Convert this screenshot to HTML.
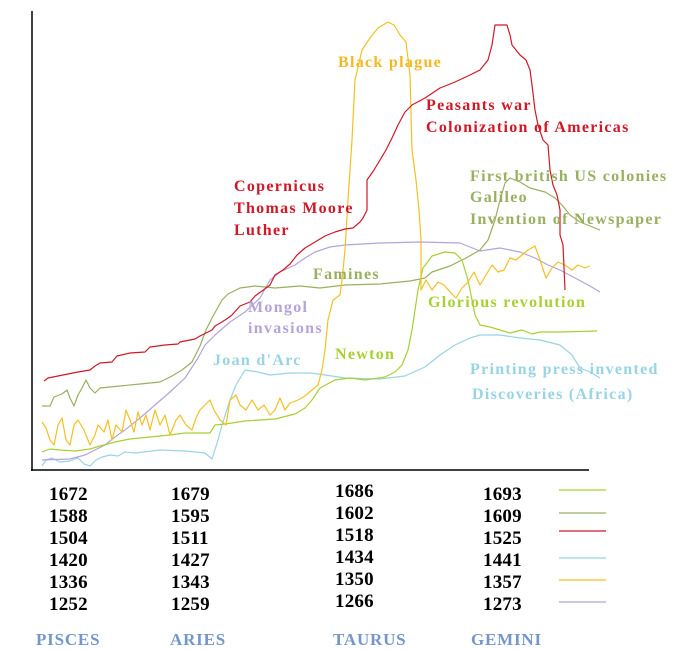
<!DOCTYPE html>
<html><head><style>
body{margin:0;background:#fff;}
svg{display:block;}
text{font-family:"Liberation Serif",serif;font-weight:bold;}
</style></head><body>
<svg width="687" height="651" viewBox="0 0 687 651" xmlns="http://www.w3.org/2000/svg">
<g fill="none" stroke-width="1.2" stroke-linejoin="round">
<line x1="32" y1="11" x2="32" y2="471" stroke="#000" stroke-width="1.5"/>
<line x1="31" y1="470" x2="589" y2="470" stroke="#000" stroke-width="1.5"/>
<polyline stroke="#98d4e4" points="42,466 46,460 52,458 60,462 70,461 78,458 84,464 90,466 96,460 102,457 110,455 118,456 125,452 135,453 160,450 185,451 205,453 212,459 218,440 222,425 230,400 236,385 245,370 258,372 270,375 290,373 310,373 325,375 345,378 380,379 405,376 425,367 440,355 455,345 470,338 480,335 500,335 520,338 540,340 560,345 572,355 580,368 590,372 600,378"/>
<polyline stroke="#b4a4d8" points="42,460 70,459 85,455 95,450 105,445 115,437 125,430 140,418 155,405 170,392 185,378 198,358 205,345 215,335 230,322 245,312 260,298 270,280 280,272 295,265 305,258 315,252 330,247 345,245 380,243 420,242 460,243 470,247 480,251 500,248 520,252 535,258 548,265 560,270 575,278 590,286 600,292"/>
<polyline stroke="#98b060" points="42,406 50,406 54,397 62,394 67,390 70,398 74,406 78,395 82,388 86,380 90,388 95,393 100,388 120,386 140,384 160,382 172,376 182,370 192,362 200,346 206,330 212,318 222,300 228,294 240,288 255,286 275,288 300,286 320,288 345,285 380,284 410,281 425,278 432,272 450,266 466,258 480,250 488,240 495,220 500,200 505,183 510,178 520,182 530,188 545,192 555,198 562,205 570,215 580,222 590,226 600,230"/>
<polyline stroke="#a8d030" points="42,452 50,449 60,450 75,451 90,449 100,446 115,442 130,439 150,437 170,435 185,433 210,433 215,425 225,424 245,421 260,420 275,419 295,414 305,408 312,400 320,388 335,380 350,378 365,380 385,377 395,372 402,365 408,350 412,330 415,310 418,290 423,268 432,256 445,252 455,253 462,260 468,280 472,300 475,315 480,325 490,327 500,330 510,333 522,330 532,334 540,332 560,332 597,331"/>
<polyline stroke="#f4c020" points="42,422 46,428 50,440 54,445 58,425 62,418 66,440 70,445 74,425 78,420 84,430 90,445 95,435 98,425 104,432 108,420 112,440 116,425 122,432 126,410 130,420 134,432 138,412 142,425 146,415 150,430 155,410 160,425 165,415 170,435 176,420 180,415 186,425 192,430 196,418 200,410 205,405 210,400 214,410 220,420 226,425 230,400 236,395 240,405 246,410 252,400 258,410 264,405 270,415 275,410 280,398 285,410 290,403 298,400 305,396 312,390 318,385 322,370 325,350 328,320 333,300 340,295 342,280 345,250 348,200 352,140 355,80 362,50 370,38 378,28 388,22 394,25 400,35 406,42 410,75 412,150 416,180 419,210 421,240 421,290 426,280 432,290 438,282 444,285 450,292 456,298 462,288 468,282 474,272 480,285 486,275 492,265 498,272 504,270 510,258 516,260 522,255 528,250 535,246 540,260 546,278 552,268 558,262 565,265 572,270 578,265 585,268 590,266"/>
<polyline stroke="#d01828" points="44,381 48,378 58,376 68,374 78,372 90,370 95,366 100,363 112,362 117,356 130,353 145,352 150,347 165,345 178,344 180,342 195,339 200,336 212,330 215,326 222,322 228,318 232,315 240,306 250,302 255,296 262,291 270,285 275,275 283,270 290,264 297,255 305,248 315,242 325,236 335,232 345,229 353,228 360,222 363,218 367,210 367,180 374,170 380,160 386,150 392,138 398,125 405,112 412,105 425,98 440,88 455,82 470,75 480,70 488,60 492,45 495,25 507,25 510,35 512,45 520,55 526,60 530,70 532,85 535,110 538,125 543,140 548,145 550,170 553,185 557,195 560,210 560,235 563,245 565,290"/>
<line x1="559" y1="490" x2="606" y2="490" stroke="#a8d030"/>
<line x1="559" y1="513" x2="606" y2="513" stroke="#98b060"/>
<line x1="559" y1="531" x2="606" y2="531" stroke="#d01828"/>
<line x1="559" y1="558" x2="606" y2="558" stroke="#98d4e4"/>
<line x1="559" y1="580" x2="606" y2="580" stroke="#f4c020"/>
<line x1="559" y1="602" x2="606" y2="602" stroke="#b4a4d8"/>
</g>
<g font-size="16" letter-spacing="1.3">
<text x="338" y="67" fill="#f4b820">Black plague</text>
<text x="426" y="110" fill="#d01828">Peasants war</text>
<text x="426" y="132" fill="#d01828">Colonization of Americas</text>
<text x="234" y="191" fill="#d01828">Copernicus</text>
<text x="234" y="213" fill="#d01828">Thomas Moore</text>
<text x="234" y="235" fill="#d01828">Luther</text>
<text x="470" y="181" fill="#98b060">First british US colonies</text>
<text x="470" y="202" fill="#98b060">Galileo</text>
<text x="470" y="224" fill="#98b060">Invention of Newspaper</text>
<text x="313" y="279" fill="#98b060">Famines</text>
<text x="248" y="312" fill="#b4a4d8">Mongol</text>
<text x="248" y="333" fill="#b4a4d8">invasions</text>
<text x="428" y="307" fill="#a8d030">Glorious revolution</text>
<text x="335" y="359" fill="#a8d030">Newton</text>
<text x="213" y="365" fill="#98d4e4">Joan d'Arc</text>
<text x="470" y="374" fill="#98d4e4">Printing press invented</text>
<text x="472" y="399" fill="#98d4e4">Discoveries (Africa)</text>
</g>
<g font-size="19" fill="#000" letter-spacing="0.2">
<text x="49" y="500">1672</text><text x="49" y="522">1588</text><text x="49" y="544">1504</text><text x="49" y="566">1420</text><text x="49" y="588">1336</text><text x="49" y="610">1252</text>
<text x="171" y="500">1679</text><text x="171" y="522">1595</text><text x="171" y="544">1511</text><text x="171" y="566">1427</text><text x="171" y="588">1343</text><text x="171" y="610">1259</text>
<text x="335" y="497">1686</text><text x="335" y="519">1602</text><text x="335" y="541">1518</text><text x="335" y="563">1434</text><text x="335" y="585">1350</text><text x="335" y="607">1266</text>
<text x="483" y="500">1693</text><text x="483" y="522">1609</text><text x="483" y="544">1525</text><text x="483" y="566">1441</text><text x="483" y="588">1357</text><text x="483" y="610">1273</text>
</g>
<g font-size="17" fill="#7496c8" letter-spacing="0.8">
<text x="36" y="645">PISCES</text>
<text x="170" y="645">ARIES</text>
<text x="333" y="645">TAURUS</text>
<text x="471" y="645">GEMINI</text>
</g>
</svg>
</body></html>
